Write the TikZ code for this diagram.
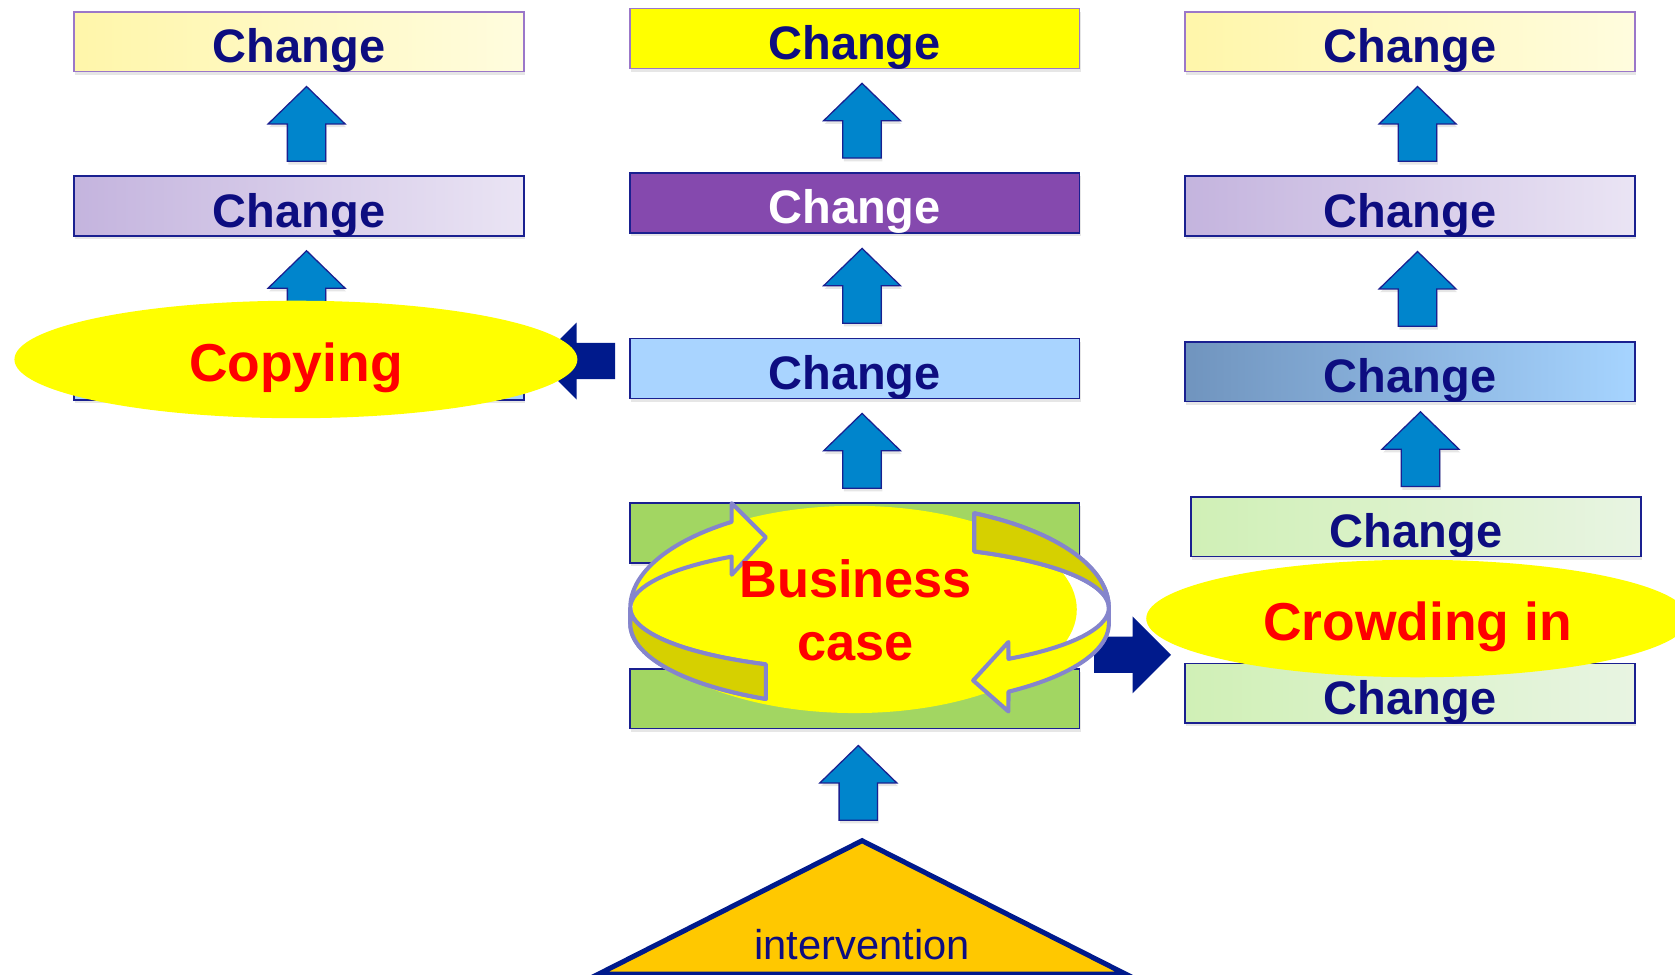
\documentclass[tikz,border=0pt]{standalone}
\usepackage{fontspec}
\setmainfont{Liberation Sans}
\usetikzlibrary{calc,shapes.geometric,shadows}

\definecolor{navy}{HTML}{0D0D80}
\definecolor{edge}{HTML}{1A2090}
\definecolor{lilac}{HTML}{9B77C9}
\definecolor{lemon}{HTML}{FFFF00}
\definecolor{arrblue}{HTML}{0085CC}
\definecolor{darknavy}{HTML}{001A8C}
\definecolor{ringline}{HTML}{8585CC}
\definecolor{ringdark}{HTML}{D6D000}
\definecolor{lblue}{HTML}{A9D4FF}
\definecolor{grn}{HTML}{A2D662}
\definecolor{purp}{HTML}{8549AE}
\definecolor{gold}{HTML}{FFC800}

\tikzset{
  box/.style={draw=edge, line width=1.5pt, minimum width=421pt, minimum height=56pt,
    inner sep=0pt, text height=39pt, text depth=0pt, text=navy,
    font=\fontsize{44}{48}\selectfont\bfseries,
    drop shadow={opacity=0.2, shadow xshift=1pt, shadow yshift=-3pt}},
  paleyel/.style={box, draw=lilac, left color={rgb,255:red,255;green,246;blue,170}, right color={rgb,255:red,255;green,252;blue,222}},
  lav/.style={box, left color={rgb,255:red,196;green,180;blue,222}, right color={rgb,255:red,234;green,228;blue,244}},
  steel/.style={box, left color={rgb,255:red,112;green,148;blue,190}, right color={rgb,255:red,166;green,212;blue,255}},
  mint/.style={box, left color={rgb,255:red,208;green,240;blue,182}, right color={rgb,255:red,232;green,244;blue,226}},
  blob/.style={ellipse, fill=lemon, inner sep=0pt, text=red,
    font=\fontsize{50}{54}\selectfont\bfseries, text height=41pt, text depth=0pt},
  redtxt/.style={text=red, font=\fontsize{49}{54}\selectfont\bfseries, inner sep=0pt},
  ring/.style={draw=ringline, line width=3.8pt, line join=round},
  upfill/.style={fill=arrblue, draw=edge, line width=1.2pt,
    drop shadow={opacity=0.2, shadow xshift=1pt, shadow yshift=-3pt}},
  uparr/.pic={\draw[upfill] (0,-35) -- (36,0) -- (18,0) -- (18,35) -- (-18,35) -- (-18,0) -- (-36,0) -- cycle;},
  sidearr/.pic={\fill[darknavy] (0,-17) -- (36,-17) -- (36,-36) -- (72,0) -- (36,36) -- (36,17) -- (0,17) -- cycle;}
}

\begin{document}
\begin{tikzpicture}[x=1pt, y=-1pt]
    \useasboundingbox (0,0) rectangle (1568,912);
    \clip (0,0) rectangle (1568,912);

    % left column
    \node[paleyel] (l1) at (280,39) {Change};
    \node[lav] (l2) at (280,193) {Change};
    \node[box, fill=lblue] (l3) at (280,346.5) {}; % hidden under the ellipse
    % middle column
    \node[box, draw=lilac, fill=lemon] (m1) at (800,36) {Change};
    \node[box, fill=purp, text=white] (m2) at (800,190) {Change};
    \node[box, fill=lblue] (m3) at (800,345) {Change};
    \node[box, fill=grn] (g1) at (800,499) {};
    \node[box, fill=grn] (g2) at (800,654) {};
    % right column
    \node[paleyel] (r1) at (1320,39) {Change};
    \node[lav] (r2) at (1320,193) {Change};
    \node[steel] (r3) at (1320,348) {Change};
    \node[mint] (r4) at (1325.5,493) {Change};
    \node[mint] (r5) at (1320,649) {Change};

    \coordinate (apex) at (807,787);

    % block arrows between the boxes
    \foreach \a/\b in {l1/l2, l2/l3, m1/m2, m2/m3, m3/g1, r1/r2, r2/r3, r3/r4}
        \pic at ($(\a.south)!.5!(\b.north)+(7,0)$) {uparr};
    \pic at ($(g2.south)!.5!(apex)+(0,-2)$) {uparr};

    \pic[rotate=180] at ($(m3.west)+(-13,-7)$) {sidearr};
    \pic at ($(g2.east)+(13,-41)$) {sidearr};

    % the three yellow ellipses
    \node[blob, minimum width=527pt, minimum height=110pt] (copy) at (277,336.5) {Copying};
    \node[blob, minimum width=508pt, minimum height=110pt] (crowd) at (1327,579) {Crowding in};
    \node[blob, minimum width=416pt, minimum height=194pt] (bcase) at (800,570.5) {};

    % circular arrows round the business case
    \def\rcx{814} \def\rrx{224}
    \draw[ring, fill=lemon] (717,621.9)
        -- plot[domain=244.3:125.2, samples=40, variable=\t] ({\rcx+\rrx*cos(\t)},{569-58.7*sin(\t)})
        -- (685,538) -- (717,503) -- (685,471)
        -- plot[domain=125.2:180, samples=30, variable=\t] ({\rcx+\rrx*cos(\t)},{569-98.5*sin(\t)})
        -- (590,584)
        -- plot[domain=180:244.3, samples=30, variable=\t] ({\rcx+\rrx*cos(\t)},{584-78*sin(\t)})
        -- cycle;
    \draw[ring, fill=ringdark] (590,569)
        -- plot[domain=180:244.3, samples=30, variable=\t] ({\rcx+\rrx*cos(\t)},{569-58.7*sin(\t)})
        -- plot[domain=244.3:180, samples=30, variable=\t] ({\rcx+\rrx*cos(\t)},{584-78*sin(\t)})
        -- cycle;
    \draw[ring, fill=lemon] (912,480.4)
        -- plot[domain=64.06:0, samples=30, variable=\t] ({\rcx+\rrx*cos(\t)},{569-98.5*sin(\t)})
        -- (1038,584)
        -- plot[domain=0:-54.5, samples=30, variable=\t] ({\rcx+\rrx*cos(\t)},{584-78*sin(\t)})
        -- (944,666) -- (911,637) -- (944,601)
        -- plot[domain=-54.5:64.06, samples=40, variable=\t] ({\rcx+\rrx*cos(\t)},{569-58.7*sin(\t)})
        -- cycle;
    \draw[ring, fill=ringdark] (912,480.4)
        -- plot[domain=64.06:0, samples=30, variable=\t] ({\rcx+\rrx*cos(\t)},{569-98.5*sin(\t)})
        -- plot[domain=0:64.06, samples=30, variable=\t] ({\rcx+\rrx*cos(\t)},{569-58.7*sin(\t)})
        -- cycle;

    \node[redtxt, anchor=base] (bus) at ($(bcase.center)+(1,-11.5)$) {Business};
    \node[redtxt, anchor=base] (cas) at ($(bcase.center)+(1,47.5)$) {case};

    % intervention
    \draw[fill=gold, draw=darknavy, line width=4.7pt, line join=miter] (apex) -- (560,912) -- (1054,912) -- cycle;
    \node[text=navy, font=\fontsize{39}{44}\selectfont, inner sep=0pt, anchor=base] (interv) at ($(apex)+(0,111)$) {intervention};
\end{tikzpicture}
\end{document}
